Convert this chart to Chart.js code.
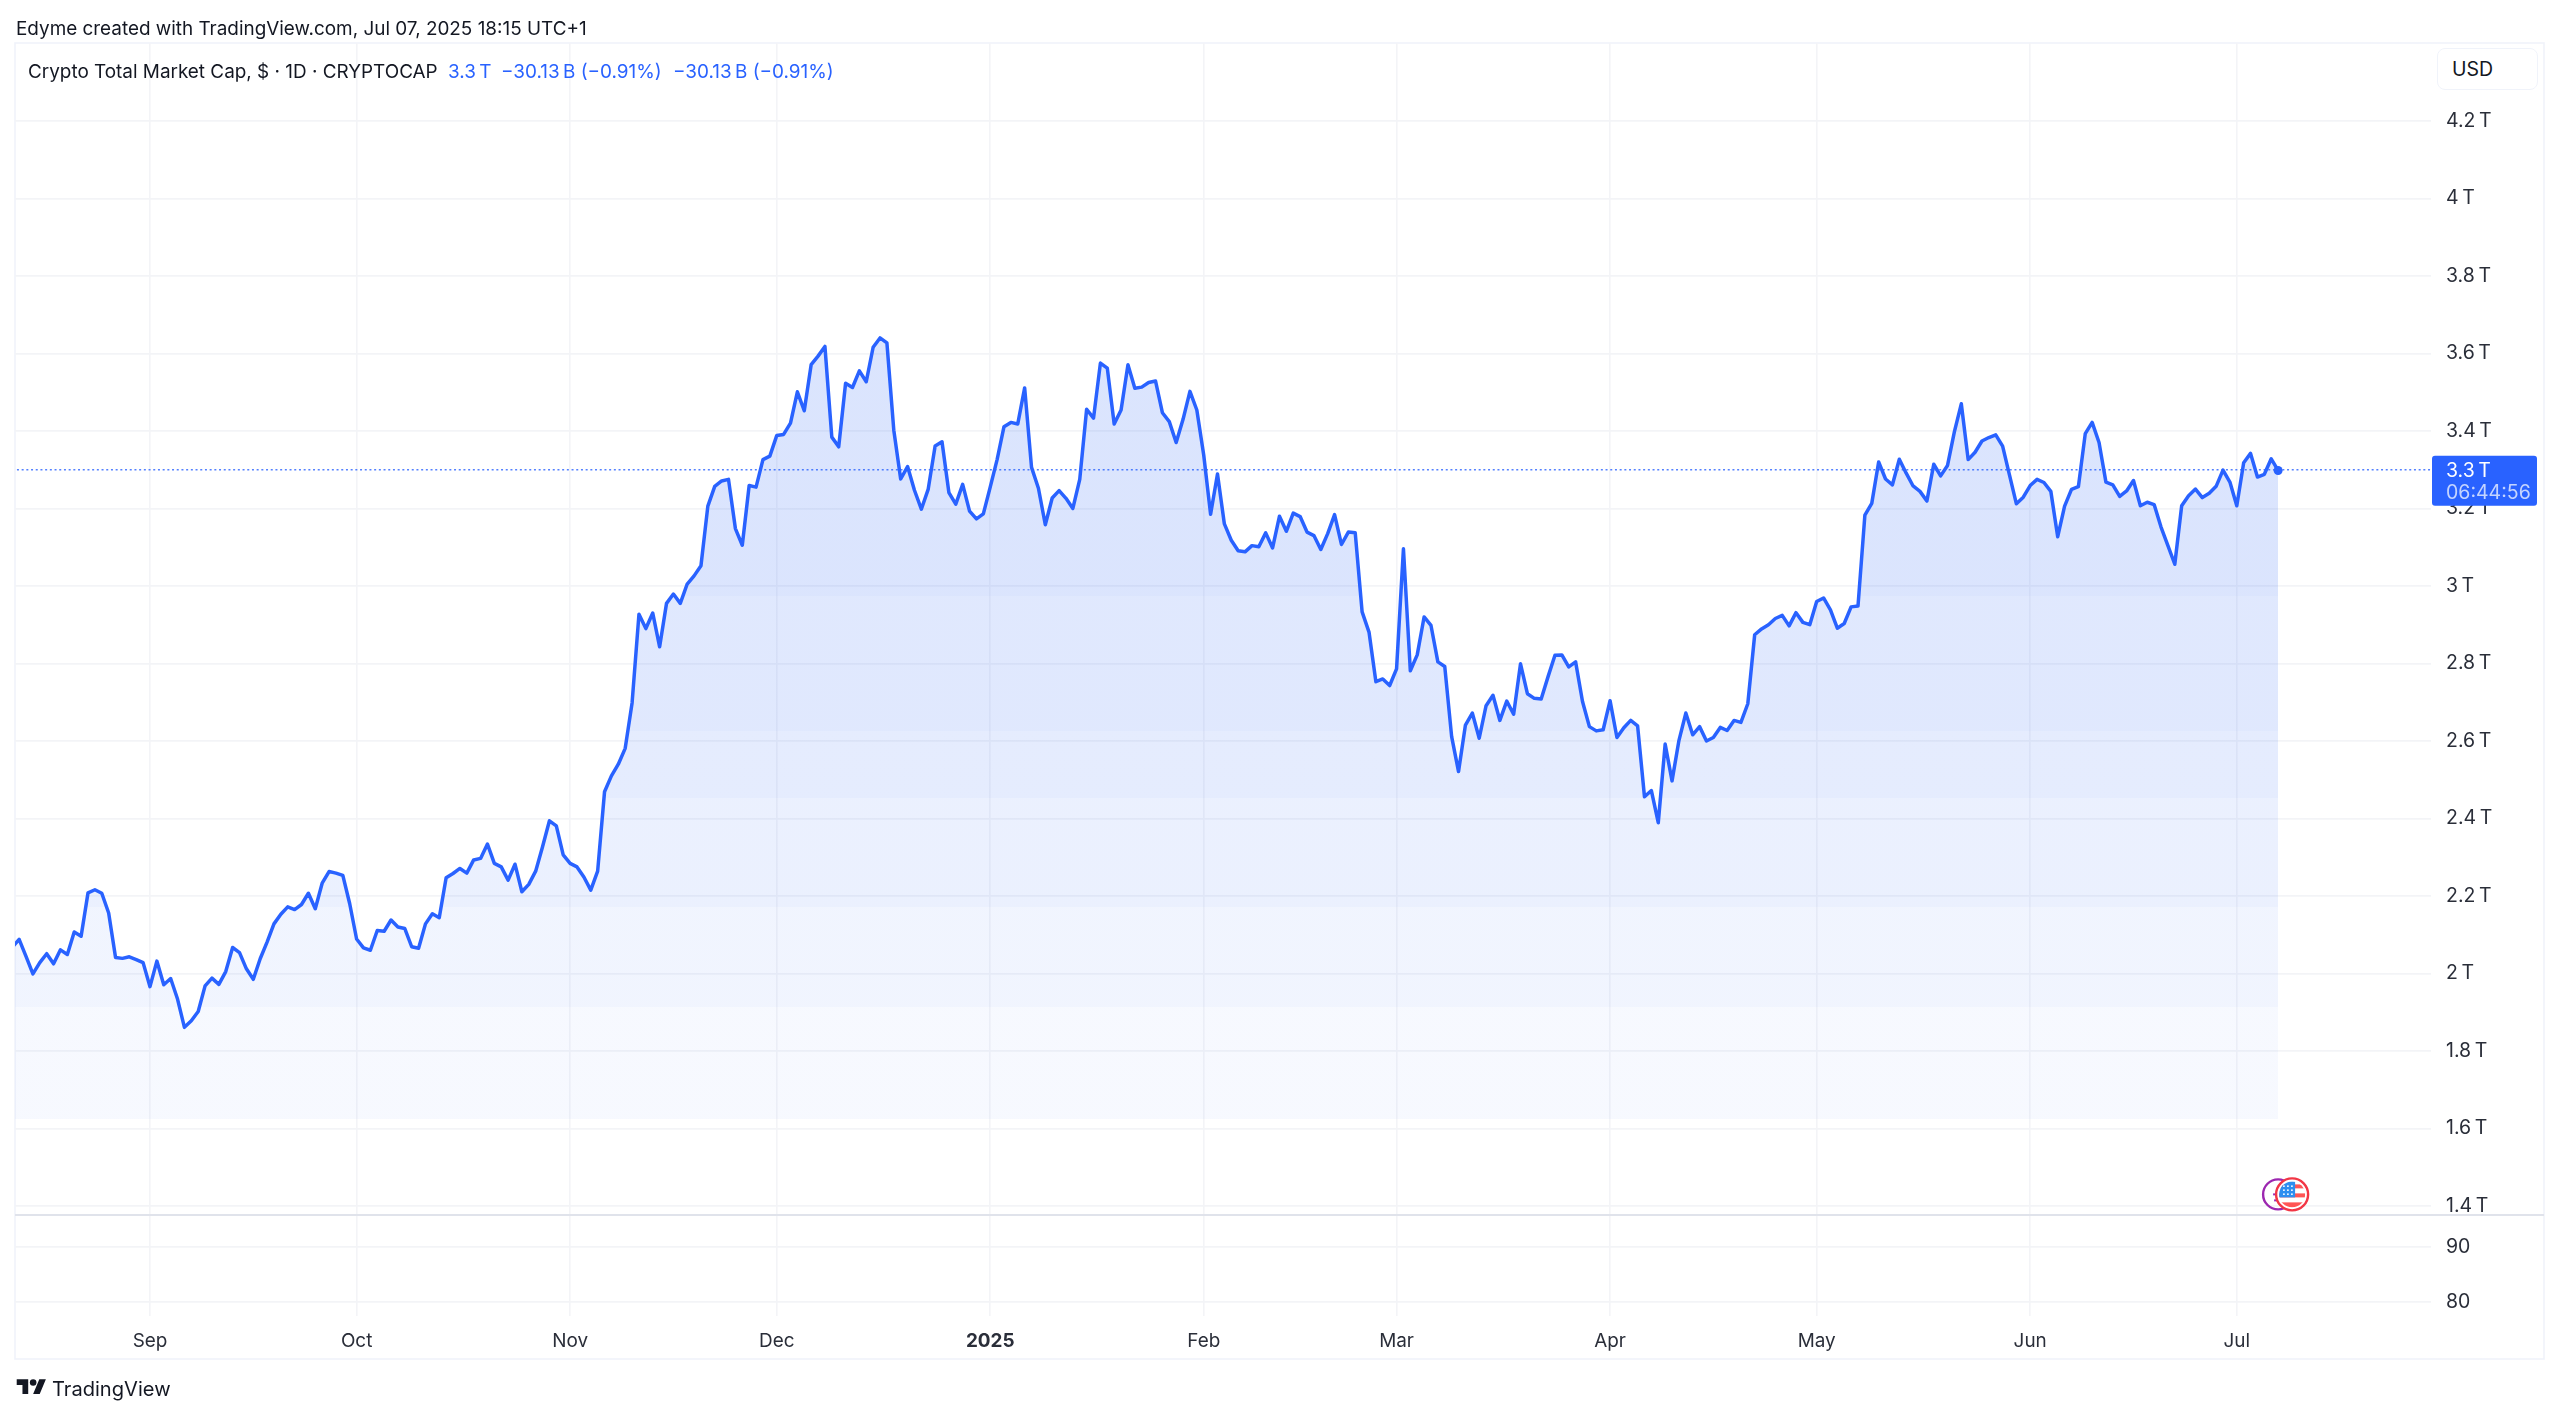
<!DOCTYPE html>
<html>
<head>
<meta charset="utf-8">
<title>Crypto Total Market Cap</title>
<script src="https://cdn.jsdelivr.net/npm/chart.js@4/dist/chart.umd.js"></script>
<style>
  html, body { margin: 0; padding: 0; background: #fff; }
  #wrap { position: relative; width: 2560px; height: 1415px; overflow: hidden; font-family: Inter, "Noto Sans", sans-serif; color: #131722; }
  canvas { position: absolute; left: 0; top: 0; }
  .txt { position: absolute; white-space: nowrap; font-size: 18.9px; line-height: 24px; }
  .blue { color: #2962ff; }
  #usd { position: absolute; left: 2437px; top: 48px; width: 101px; height: 42px; box-sizing: border-box; border: 1.5px solid #f0f3fa; border-radius: 8px; font-size: 19.5px; line-height: 40px; padding-left: 14px; background: #fff; }
  #logo { position: absolute; left: 16px; top: 1376px; }
</style>
</head>
<body>
<div id="wrap">
  <canvas id="myChart" width="2560" height="1415"></canvas>
  <div class="txt" style="left:16px;top:17px">Edyme created with TradingView.com, Jul 07, 2025 18:15 UTC+1</div>
  <div class="txt" style="left:28px;top:60px">Crypto Total Market Cap, $ · 1D · CRYPTOCAP</div>
  <div class="txt blue" style="left:448px;top:60px">3.3&#8201;T</div>
  <div class="txt blue" style="left:501px;top:60px">−30.13&#8201;B (−0.91%)</div>
  <div class="txt blue" style="left:673px;top:60px">−30.13&#8201;B (−0.91%)</div>
  <div id="usd">USD</div>
  <svg id="logo" width="31" height="23" viewBox="0 0 36 28"><path fill="#131722" d="M14 22H7V11H0V4h14v18zM28 22h-8l7.5-18h8L28 22z"/><circle fill="#131722" cx="20" cy="8" r="4"/></svg>
  <div class="txt" style="left:52px;top:1377px;font-size:20.1px">TradingView</div>
</div>
<script>
// daily closes in trillions, first one is Aug 12 2024, last one Jul 7 2025
const closes = [
  2.068, 2.088, 2.044, 1.999, 2.028, 2.051, 2.025, 2.061, 2.049, 2.107,
  2.096, 2.208, 2.216, 2.207, 2.156, 2.041, 2.039, 2.043, 2.036, 2.028,
  1.966, 2.032, 1.971, 1.987, 1.934, 1.861, 1.878, 1.902, 1.968, 1.988,
  1.972, 2.005, 2.067, 2.054, 2.012, 1.985, 2.038, 2.081, 2.128, 2.153,
  2.172, 2.165, 2.178, 2.207, 2.167, 2.233, 2.263, 2.259, 2.253, 2.180,
  2.089, 2.066, 2.060, 2.111, 2.109, 2.138, 2.120, 2.116, 2.069, 2.065,
  2.128, 2.154, 2.144, 2.247, 2.258, 2.271, 2.259, 2.293, 2.297, 2.334,
  2.284, 2.275, 2.241, 2.282, 2.211, 2.230, 2.264, 2.327, 2.394, 2.381,
  2.306, 2.284, 2.275, 2.249, 2.215, 2.264, 2.469, 2.510, 2.540, 2.581,
  2.698, 2.927, 2.890, 2.930, 2.843, 2.955, 2.979, 2.955, 3.005, 3.026,
  3.052, 3.206, 3.257, 3.271, 3.275, 3.148, 3.105, 3.259, 3.255, 3.326,
  3.335, 3.388, 3.391, 3.420, 3.501, 3.452, 3.571, 3.593, 3.618, 3.384,
  3.359, 3.523, 3.512, 3.555, 3.527, 3.616, 3.640, 3.627, 3.402, 3.276,
  3.308, 3.247, 3.198, 3.250, 3.361, 3.372, 3.241, 3.211, 3.262, 3.193,
  3.173, 3.186, 3.255, 3.326, 3.411, 3.422, 3.418, 3.511, 3.306, 3.252,
  3.158, 3.227, 3.246, 3.226, 3.200, 3.275, 3.456, 3.433, 3.575, 3.562,
  3.418, 3.454, 3.571, 3.510, 3.513, 3.525, 3.529, 3.447, 3.424, 3.370,
  3.430, 3.502, 3.454, 3.338, 3.185, 3.289, 3.160, 3.118, 3.091, 3.088,
  3.104, 3.101, 3.137, 3.098, 3.180, 3.141, 3.188, 3.179, 3.139, 3.130,
  3.094, 3.135, 3.184, 3.107, 3.139, 3.137, 2.933, 2.881, 2.753, 2.760,
  2.743, 2.786, 3.096, 2.781, 2.822, 2.920, 2.898, 2.804, 2.792, 2.611,
  2.521, 2.641, 2.672, 2.607, 2.691, 2.718, 2.653, 2.703, 2.669, 2.799,
  2.722, 2.710, 2.708, 2.766, 2.821, 2.822, 2.791, 2.804, 2.702, 2.637,
  2.626, 2.629, 2.704, 2.609, 2.634, 2.653, 2.639, 2.456, 2.472, 2.389,
  2.592, 2.497, 2.601, 2.672, 2.616, 2.637, 2.600, 2.609, 2.635, 2.627,
  2.653, 2.648, 2.696, 2.874, 2.889, 2.900, 2.916, 2.924, 2.897, 2.931,
  2.906, 2.900, 2.960, 2.969, 2.938, 2.891, 2.903, 2.946, 2.948, 3.183,
  3.213, 3.320, 3.276, 3.261, 3.327, 3.291, 3.258, 3.244, 3.219, 3.314,
  3.284, 3.311, 3.398, 3.470, 3.326, 3.345, 3.374, 3.383, 3.390, 3.361,
  3.286, 3.212, 3.229, 3.259, 3.275, 3.267, 3.244, 3.127, 3.206, 3.249,
  3.256, 3.393, 3.422, 3.370, 3.268, 3.261, 3.231, 3.245, 3.272, 3.207,
  3.216, 3.210, 3.152, 3.104, 3.056, 3.207, 3.233, 3.250, 3.228, 3.239,
  3.257, 3.299, 3.268, 3.207, 3.318, 3.342, 3.281, 3.288, 3.328, 3.298
];
const firstDay = -20;          // Aug 12, counted in days from Sep 1 2024
const lastPrice = 3.3;

const monthLabels = ["Sep", "Oct", "Nov", "Dec", "2025", "Feb", "Mar", "Apr", "May", "Jun", "Jul"];
const monthDays = [0, 30, 61, 91, 122, 153, 181, 212, 242, 273, 303];
const priceTicks = [1.4, 1.6, 1.8, 2, 2.2, 2.4, 2.6, 2.8, 3, 3.2, 3.4, 3.6, 3.8, 4, 4.2];
const lowerTicks = [80, 90];

const BLUE = "#2962ff";
const GRID = "#f3f4f7";
const LABEL = "#2a2e39";

// fill of the area, the reference has visible bands
const bandEnds = [596, 731, 798, 907, 1007, 1119];
const bandAlpha = [0.17, 0.145, 0.12, 0.095, 0.065, 0.04];

function areaFill(ctx) {
  const area = ctx.chart.chartArea;
  if (!area) return "rgba(41,98,245,0.1)";
  const g = ctx.chart.ctx.createLinearGradient(0, area.top, 0, 1119);
  let from = 0;
  bandEnds.forEach((end, i) => {
    const to = (end - area.top) / (1119 - area.top);
    const col = "rgba(41,98,245," + bandAlpha[i] + ")";
    g.addColorStop(from, col);
    g.addColorStop(to, col);
    from = to;
  });
  return g;
}

function tickList(values) {
  return axis => { axis.ticks = values.map(v => ({ value: v })); };
}

// frame, pane divider, price tag and the two event icons
const extras = {
  id: "extras",
  beforeDraw(chart) {
    const c = chart.ctx;
    c.save();
    c.strokeStyle = "#f0f3fa";
    c.lineWidth = 1.6;
    c.strokeRect(15, 43, 2529, 1316);
    c.restore();
  },
  afterDraw(chart) {
    const c = chart.ctx;
    const y = chart.scales.y.getPixelForValue(lastPrice);
    c.save();
    c.fillStyle = "#e0e3eb";
    c.fillRect(15, 1214, 2529, 2);

    c.fillStyle = BLUE;
    c.beginPath();
    c.roundRect(2432, y - 14, 105, 50, 3);
    c.fill();
    c.font = "19.5px Inter";
    c.textBaseline = "middle";
    c.fillStyle = "#fff";
    c.fillText("3.3\u2009T", 2446, y + 1);
    c.fillStyle = "#c4d4ff";
    c.fillText("06:44:56", 2446, y + 23);

    const iy = chart.scales.y.getPixelForValue(1.43);
    const ix = chart.scales.x.getPixelForValue(monthDays[10] + 6);
    c.strokeStyle = "#9c27b0";
    c.fillStyle = "#9c27b0";
    c.lineWidth = 2.4;
    c.beginPath();
    c.arc(ix, iy, 15, 0, Math.PI * 2);
    c.stroke();
    c.fillRect(ix - 5, iy - 1, 4, 2);
    c.fillRect(ix - 4, iy + 5, 3, 2);

    const fx = ix + 14;
    c.fillStyle = "#fff";
    c.beginPath();
    c.arc(fx, iy, 16, 0, Math.PI * 2);
    c.fill();
    c.save();
    c.beginPath();
    c.arc(fx, iy, 13, 0, Math.PI * 2);
    c.clip();
    c.fillStyle = "#f55";
    c.fillRect(fx - 13, iy - 10, 26, 4);
    c.fillRect(fx - 13, iy - 1, 26, 4);
    c.fillRect(fx - 13, iy + 8, 26, 5);
    c.fillStyle = "#2e8ef0";
    c.fillRect(fx - 13, iy - 13, 16, 16);
    c.fillStyle = "#fff";
    [-9, -5, -1].forEach(dy => [-9, -5, -1].forEach(dx => c.fillRect(fx + dx, iy + dy, 1.6, 1.6)));
    c.restore();
    c.strokeStyle = "#f23645";
    c.lineWidth = 2.4;
    c.beginPath();
    c.arc(fx, iy, 16, 0, Math.PI * 2);
    c.stroke();
    c.restore();
  }
};

const tickFont = { family: "Inter", size: 18.9 };
const priceFont = { family: "Inter", size: 19.5 };

new Chart(document.getElementById("myChart"), {
  type: "line",
  data: {
    datasets: [
      {
        label: "Crypto Total Market Cap",
        data: closes.map((v, i) => ({ x: firstDay + i, y: v })),
        yAxisID: "y",
        borderColor: BLUE,
        borderWidth: 3.5,
        borderJoinStyle: "round",
        tension: 0,
        backgroundColor: areaFill,
        fill: { target: { value: 1.6245 } },
        pointRadius: ctx => (ctx.dataIndex === closes.length - 1 ? 4.5 : 0),
        pointBackgroundColor: BLUE,
        pointBorderWidth: 0
      },
      {
        label: "Last price",
        data: [{ x: firstDay, y: lastPrice }, { x: 332, y: lastPrice }],
        yAxisID: "y",
        borderColor: "rgba(41,98,255,0.8)",
        borderWidth: 1.6,
        borderDash: [2, 2.7],
        pointRadius: 0,
        fill: false
      }
    ]
  },
  options: {
    responsive: false,
    animation: false,
    devicePixelRatio: 1,
    layout: { padding: { left: 15, top: 43, right: 16, bottom: 56 } },
    plugins: { legend: { display: false }, tooltip: { enabled: false } },
    scales: {
      x: {
        type: "linear",
        min: -19.6,
        max: 331.2,
        afterBuildTicks: tickList(monthDays),
        afterFit: s => { s.height = 43; },
        grid: { color: GRID, lineWidth: 1.6, drawTicks: false },
        border: { display: false },
        ticks: {
          autoSkip: false,
          maxRotation: 0,
          padding: 14,
          color: LABEL,
          font: ctx => (ctx.tick && ctx.tick.value === monthDays[4] ? { family: "Inter", size: 18.9, weight: "bold" } : tickFont),
          callback: v => monthLabels[monthDays.indexOf(v)]
        }
      },
      y: {
        position: "right",
        stack: "panes",
        stackWeight: 1172,
        min: 1.3768,
        max: 4.401,
        afterBuildTicks: tickList(priceTicks),
        afterFit: s => { s.width = 113; },
        grid: { color: GRID, lineWidth: 1.8, drawTicks: false },
        border: { display: false },
        ticks: {
          padding: 15,
          crossAlign: "near",
          color: LABEL,
          font: priceFont,
          callback: v => v.toFixed(1).replace(".0", "") + "\u2009T"
        }
      },
      y2: {
        position: "right",
        stack: "panes",
        stackWeight: 101,
        min: 77.45,
        max: 95.8,
        afterBuildTicks: tickList(lowerTicks),
        afterFit: s => { s.width = 113; },
        grid: { color: GRID, lineWidth: 1.8, drawTicks: false },
        border: { display: false },
        ticks: {
          padding: 15,
          crossAlign: "near",
          color: LABEL,
          font: priceFont,
          callback: v => String(v)
        }
      }
    }
  },
  plugins: [extras]
});
</script>
</body>
</html>
